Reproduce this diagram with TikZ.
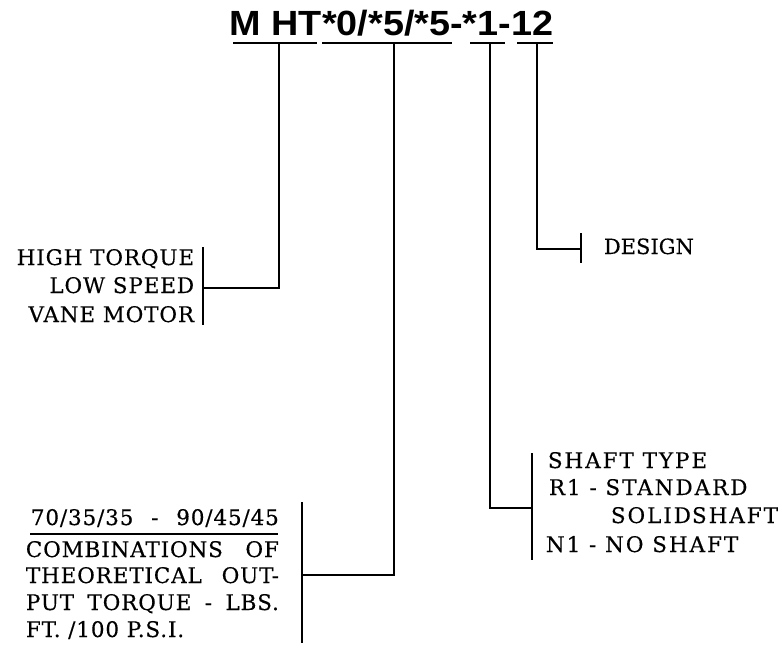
\documentclass[tikz,border=0pt]{standalone}
\usepackage{fontspec}
\newfontfamily\lblfont{DejaVu Serif}[LetterSpace=4,FakeBold=0.4]
\newfontfamily\widefont{DejaVu Serif}[LetterSpace=9,FakeBold=0.4]
\newfontfamily\desfont{DejaVu Serif}[LetterSpace=0,FakeBold=0.4]
\newfontfamily\titlefont{Liberation Sans}
\begin{document}
\begin{tikzpicture}[x=1pt,y=-1pt,line width=1.8pt,
  lbl/.style={inner sep=0pt,font=\lblfont\fontsize{21.5}{21.5}\selectfont},
  wlbl/.style={inner sep=0pt,font=\widefont\fontsize{21.5}{21.5}\selectfont},
  ttl/.style={inner sep=0pt,font=\titlefont\bfseries\fontsize{35}{35}\selectfont},
  conn/.style={line width=1.8pt},
  brk/.style={line width=1.8pt}]
\useasboundingbox (0,0) rectangle (782,648);
% title
\node[ttl,anchor=base] (title) at (391.5,35) {\scalebox{1.08}[1]{M HT*0/*5/*5-*1-12}};
% underline coordinates
\coordinate (u1a) at (233,43); \coordinate (u1b) at (317,43); \coordinate (u1m) at (279,43);
\coordinate (u2a) at (322,43); \coordinate (u2b) at (452,43); \coordinate (u2m) at (394,43);
\coordinate (u3a) at (470,43); \coordinate (u3b) at (505,43); \coordinate (u3m) at (490,43);
\coordinate (u4a) at (517,43); \coordinate (u4b) at (553,43); \coordinate (u4m) at (537,43);
\draw[conn] (u1a) -- (u1b);
\draw[conn] (u2a) -- (u2b);
\draw[conn] (u3a) -- (u3b);
\draw[conn] (u4a) -- (u4b);
% brackets
\coordinate (b1t) at (203,247); \coordinate (b1b) at (203,325); \coordinate (b1m) at (203,288);
\coordinate (b2t) at (302,502); \coordinate (b2b) at (302,643); \coordinate (b2m) at (302,575);
\coordinate (b3t) at (532,453); \coordinate (b3b) at (532,560); \coordinate (b3m) at (532,508);
\coordinate (b4t) at (581,233); \coordinate (b4b) at (581,263); \coordinate (b4m) at (581,249);
\draw[brk] (b1t) -- (b1b);
\draw[brk] (b2t) -- (b2b);
\draw[brk] (b3t) -- (b3b);
\draw[brk] (b4t) -- (b4b);
% connectors
\draw[conn,line join=miter] (u1m) |- (b1m);
\draw[conn,line join=miter] (u2m) |- (b2m);
\draw[conn,line join=miter] (u3m) |- (b3m);
\draw[conn,line join=miter] (u4m) |- (b4m);
% labels: left
\node[lbl,anchor=base east] (ht1) at (195,265) {HIGH TORQUE};
\node[lbl,anchor=base east] (ht2) at (195,293) {LOW SPEED};
\node[lbl,anchor=base east] (ht3) at (195,322) {VANE MOTOR};
% design
\node[lbl,anchor=base west,font=\desfont\fontsize{21}{21}\selectfont] (des) at (603,254) {DESIGN};
% shaft
\node[wlbl,anchor=base west] (sh1) at (547,468) {SHAFT TYPE};
\node[wlbl,anchor=base west] (sh2) at (548,495) {R1 - STANDARD};
\node[wlbl,anchor=base west] (sh3) at (610,523) {SOLID\kern1pt SHAFT};
\node[wlbl,anchor=base west] (sh4) at (545,552) {N1 - NO SHAFT};
% torque block
\node[lbl,anchor=base west] (tq0) at (30,525) {\makebox[248pt][s]{70/35/35 - 90/45/45}};
\coordinate (ula) at (30,534); \coordinate (ulb) at (278,534);
\draw[line width=1.3pt] (ula) -- (ulb);
\node[lbl,anchor=base west] (tq1) at (25,557) {\makebox[253pt][s]{COMBINATIONS OF}};
\node[lbl,anchor=base west] (tq2) at (25,583) {\makebox[253pt][s]{THEORETICAL OUT-}};
\node[lbl,anchor=base west] (tq3) at (25,610) {\makebox[253pt][s]{PUT TORQUE - LBS.}};
\node[lbl,anchor=base west] (tq4) at (25,637) {FT. /100 P.S.I.};
\end{tikzpicture}
\end{document}
